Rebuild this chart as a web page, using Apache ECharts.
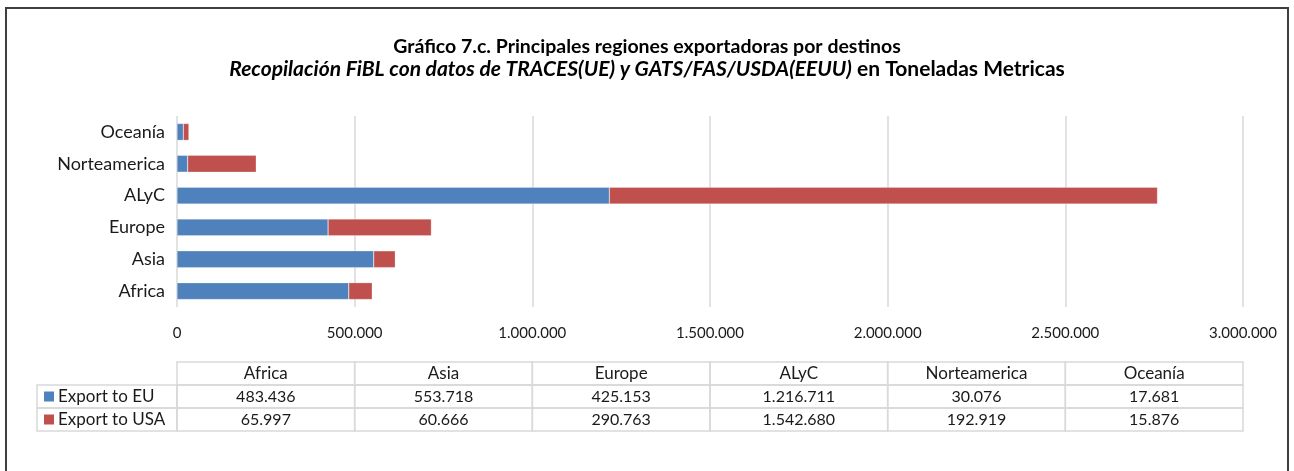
<!DOCTYPE html>
<html>
<head>
  <meta charset="UTF-8">
  <title>Gráfico 7.c</title>
  <script src="https://cdn.jsdelivr.net/npm/echarts@6/dist/echarts.min.js"></script>
  <style>
    html, body { margin: 0; padding: 0; background: #fff; }
    #main { width: 1294px; height: 471px; }
  </style>
</head>
<body>
  <div id="main"></div>
  <script>
    // datos (toneladas)
    const regions = ['Africa', 'Asia', 'Europe', 'ALyC', 'Norteamerica', 'Oceanía']
    const exportEU = [483436, 553718, 425153, 1216711, 30076, 17681]
    const exportUSA = [65997, 60666, 290763, 1542680, 192919, 15876]
    const seriesNames = ['Export to EU', 'Export to USA']
    const colors = ['#4f81bd', '#c0504d']
    const xTicks = [0, 500000, 1000000, 1500000, 2000000, 2500000, 3000000]

    const font = 'Lato, "Noto Sans", sans-serif'
    const gridLeft = 177, gridRight = 51, gridTop = 116, gridBottom = 164

    function fmt(v) {
      return String(v).replace(/\B(?=(\d{3})+(?!\d))/g, '.')
    }

    // tabla de datos bajo el grafico
    function buildTable() {
      const els = []
      const plotW = 1294 - gridLeft - gridRight
      const colW = plotW / regions.length
      const line = '#d9d9d9'
      const headTop = 362, headH = 23, rowH = 23
      const legendLeft = 37

      regions.forEach((r, i) => {
        const x = gridLeft + i * colW
        els.push({ type: 'rect', shape: { x: x, y: headTop, width: colW, height: headH },
          style: { fill: 'none', stroke: line, lineWidth: 1.5 } })
        els.push({ type: 'text', style: { text: r, x: x + colW / 2, y: headTop + headH / 2,
          textAlign: 'center', textVerticalAlign: 'middle', align: 'center', verticalAlign: 'middle',
          font: '17px ' + font, fill: '#1a1a1a' } })
      })

      const rows = [exportEU, exportUSA]
      rows.forEach((vals, j) => {
        const y = headTop + headH + j * rowH
        els.push({ type: 'rect', shape: { x: legendLeft, y: y, width: gridLeft - legendLeft, height: rowH },
          style: { fill: 'none', stroke: line, lineWidth: 1.5 } })
        els.push({ type: 'rect', shape: { x: legendLeft + 7, y: y + rowH / 2 - 5, width: 10, height: 10 },
          style: { fill: colors[j] } })
        els.push({ type: 'text', style: { text: seriesNames[j], x: legendLeft + 21, y: y + rowH / 2,
          textAlign: 'left', textVerticalAlign: 'middle', align: 'left', verticalAlign: 'middle',
          font: '17px ' + font, fill: '#1a1a1a' } })
        vals.forEach((v, i) => {
          const x = gridLeft + i * colW
          els.push({ type: 'rect', shape: { x: x, y: y, width: colW, height: rowH },
            style: { fill: 'none', stroke: line, lineWidth: 1.5 } })
          els.push({ type: 'text', style: { text: fmt(v), x: x + colW / 2, y: y + rowH / 2,
            textAlign: 'center', textVerticalAlign: 'middle', align: 'center', verticalAlign: 'middle',
            font: '16px ' + font, fill: '#1a1a1a' } })
        })
      })

      // marco exterior
      els.push({ type: 'rect', shape: { x: 6, y: 8, width: 1282, height: 500 },
        style: { fill: 'none', stroke: '#3f3f3f', lineWidth: 2 } })
      return els
    }

    const myChart = echarts.init(document.getElementById('main'))
    const option = {
      animation: false,
      title: {
        left: 'center',
        top: 30,
        text: '{t|Gráfico 7.c. Principales regiones exportadoras por destinos}\n{i|Recopilación FiBL con datos de TRACES(UE) y GATS/FAS/USDA(EEUU)}{b| en Toneladas Metricas}',
        textStyle: {
          rich: {
            t: { fontFamily: font, fontSize: 19.5, fontWeight: 'bold', color: '#000', lineHeight: 23, align: 'center' },
            i: { fontFamily: font, fontSize: 21, fontStyle: 'italic', color: '#000', lineHeight: 23 },
            b: { fontFamily: font, fontSize: 21, fontWeight: 'bold', color: '#000', lineHeight: 23 }
          }
        }
      },
      grid: { left: gridLeft, right: gridRight, top: gridTop, bottom: gridBottom, containLabel: false },
      xAxis: {
        type: 'value',
        min: 0,
        max: xTicks[xTicks.length - 1],
        interval: xTicks[1] - xTicks[0],
        axisLine: { show: false },
        axisTick: { show: false },
        splitLine: { lineStyle: { color: '#d9d9d9', width: 1.5 } },
        axisLabel: { formatter: v => fmt(v), color: '#1a1a1a', fontFamily: font, fontSize: 15, margin: 19 }
      },
      yAxis: {
        type: 'category',
        data: regions,
        axisLine: { show: false },
        axisTick: { show: false },
        axisLabel: { color: '#1a1a1a', fontFamily: font, fontSize: 18, margin: 12 }
      },
      series: [
        {
          name: seriesNames[0], type: 'bar', stack: 'total', data: exportEU, barWidth: '53%',
          itemStyle: { color: colors[0], borderColor: 'rgba(255,255,255,0.5)', borderWidth: 0.5 }
        },
        {
          name: seriesNames[1], type: 'bar', stack: 'total', data: exportUSA, barWidth: '53%',
          itemStyle: { color: colors[1], borderColor: 'rgba(255,255,255,0.5)', borderWidth: 0.5 }
        }
      ],
      graphic: buildTable()
    }
    myChart.setOption(option)
  </script>
</body>
</html>
